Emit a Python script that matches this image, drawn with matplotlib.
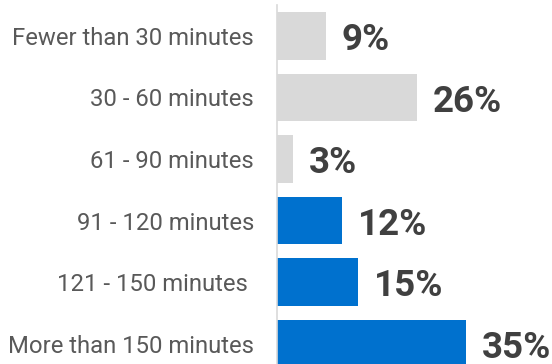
import matplotlib
matplotlib.use("Agg")
import matplotlib.pyplot as plt

categories = ["Fewer than 30 minutes", "30 - 60 minutes", "61 - 90 minutes",
              "91 - 120 minutes", "121 - 150 minutes ", "More than 150 minutes"]
values = [9, 26, 3, 12, 15, 35]
colors = ["#d9d9d9", "#d9d9d9", "#d9d9d9", "#0071ce", "#0071ce", "#0071ce"]

fig = plt.figure(figsize=(5.52, 3.64), dpi=100)
W, H = 552, 364
ax = fig.add_axes([277 / W, 0, 1 - 277 / W, 1])

ypos = list(range(len(categories)))
ax.barh(ypos, values, height=0.78, color=colors, zorder=2)
ax.set_xlim(0, (W - 277) / 5.39)
ax.set_ylim((H - 36) / 61.5, -36 / 61.5)

for y, v in zip(ypos, values):
    ax.annotate(f"{v}%", (v, y), xytext=(16, 0), textcoords="offset pixels",
                ha="left", va="center_baseline", fontsize=26.5, fontweight="bold",
                family="Roboto", color="#404040")

ax.set_yticks(ypos)
ax.set_yticklabels(categories, family="Roboto", fontsize=17.2, color="#595959")
ax.tick_params(axis="y", length=0, pad=16.5)
ax.set_xticks([])
for s in ["top", "right", "bottom"]:
    ax.spines[s].set_visible(False)
ax.spines["left"].set_color("#d9d9d9")
ax.spines["left"].set_linewidth(1.2)
ax.spines["left"].set_bounds(-36 / 61.5 + 5 / 61.5, (H - 36) / 61.5)

fig.savefig("out.png", dpi=100)
